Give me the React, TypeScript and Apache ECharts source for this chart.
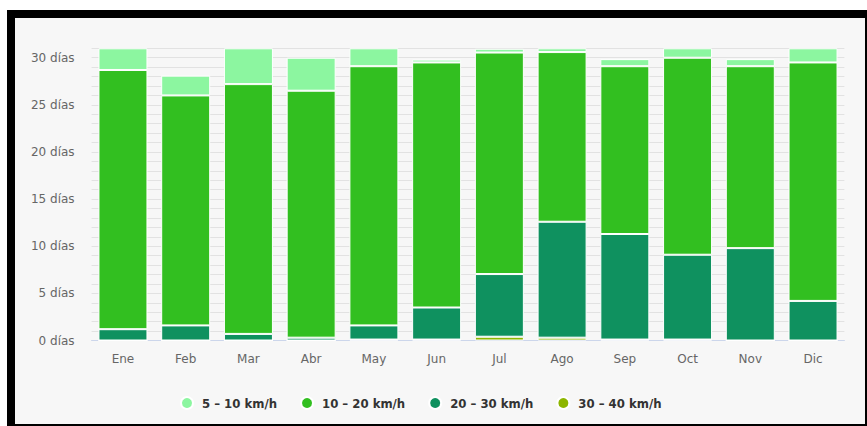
import React, { useEffect, useRef } from "react";
import * as echarts from "echarts";

const months = ["Ene", "Feb", "Mar", "Abr", "May", "Jun", "Jul", "Ago", "Sep", "Oct", "Nov", "Dic"];
const seriesNames = ["5 – 10 km/h", "10 – 20 km/h", "20 – 30 km/h", "30 – 40 km/h"];
const s5to10 = [2.3, 2.1, 3.8, 3.5, 1.9, 0.3, 0.4, 0.4, 0.75, 1.0, 0.75, 1.5];
const s10to20 = [27.5, 24.4, 26.5, 26.2, 27.5, 26.0, 23.5, 18.0, 17.8, 20.9, 19.3, 25.3];
const s20to30 = [1.2, 1.6, 0.7, 0.3, 1.5, 3.4, 6.65, 12.3, 11.2, 9.0, 9.8, 4.2];
const s30to40 = [0, 0, 0, 0, 0.1, 0.1, 0.4, 0.3, 0.1, 0.1, 0, 0];
const colors = ["#8cf6a0", "#32bf20", "#0f915f", "#8db600"];

export default function App() {
  const ref = useRef<HTMLDivElement>(null);
  useEffect(() => {
    if (!ref.current) return;
    const chart = echarts.init(ref.current, undefined, { renderer: "svg" });
    const dataByName: Record<string, number[]> = {
      [seriesNames[0]]: s5to10,
      [seriesNames[1]]: s10to20,
      [seriesNames[2]]: s20to30,
      [seriesNames[3]]: s30to40,
    };
    const stackOrder = [3, 2, 1, 0];
    chart.setOption({
      animation: false,
      textStyle: { fontFamily: "DejaVu Sans" },
      grid: { left: 76.6, top: 30.3, width: 752.8, height: 292.2 },
      legend: {
        data: seriesNames,
        top: 378,
        left: 165,
        padding: 0,
        icon: "circle",
        itemWidth: 12,
        itemHeight: 12,
        itemGap: 23,
        textStyle: {
          color: "#333",
          fontSize: 13,
          fontWeight: "bold",
          fontFamily: "DejaVu Sans Condensed",
          padding: [0, 0, 0, 4],
        },
      },
      xAxis: {
        type: "category",
        data: months,
        axisLine: { lineStyle: { color: "#ccd6eb", width: 1 } },
        axisTick: { show: false },
        axisLabel: { color: "#666", fontSize: 12, margin: 12 },
      },
      yAxis: {
        type: "value",
        min: 0,
        max: 31,
        interval: 1,
        axisLine: { show: false },
        axisTick: { show: false },
        axisLabel: {
          color: "#666",
          fontSize: 12,
          margin: 17,
          formatter: (v: number) => (v % 5 === 0 ? `${v} días` : ""),
        },
        splitLine: { lineStyle: { color: "#e2e2e2", width: 1 } },
      },
      series: stackOrder.map((i) => ({
        name: seriesNames[i],
        type: "bar",
        stack: "total",
        barWidth: 49,
        data: dataByName[seriesNames[i]],
        itemStyle: { color: colors[i], borderColor: "#ffffff", borderWidth: 1 },
      })),
    });
    return () => chart.dispose();
  }, []);

  return (
    <div style={{ position: "absolute", left: 0, top: 0, width: 867, height: 426, background: "#ffffff" }}>
      <div
        style={{
          position: "absolute",
          left: 7,
          top: 10,
          width: 860,
          height: 416,
          boxSizing: "border-box",
          borderTop: "8px solid #000",
          borderLeft: "8px solid #000",
          borderBottom: "2px solid #000",
          borderRight: "2px solid #000",
          background: "#f7f7f7",
        }}
      >
        <div ref={ref} style={{ width: 850, height: 406 }} />
      </div>
    </div>
  );
}
